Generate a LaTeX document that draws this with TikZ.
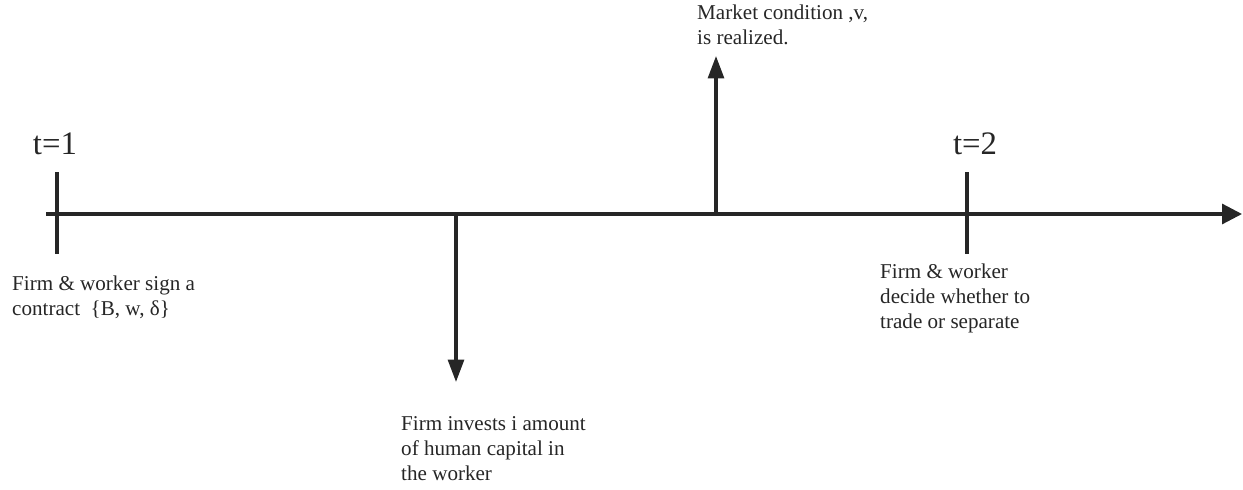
\documentclass[tikz,border=0pt]{standalone}
\usepackage{fontspec}
\setmainfont{Liberation Serif}
\usetikzlibrary{arrows.meta}

\begin{document}
\begin{tikzpicture}[x=0.3mm, y=-0.3mm,
    axis/.style={line width=2.7pt, draw=black!85},
    event/.style={axis, -{Triangle[length=19pt, width=13.5pt]}},
    note/.style={anchor=base west, inner sep=0pt, align=left, text=black!85,
                 font=\fontsize{18}{21}\selectfont},
    period/.style={anchor=base, inner sep=0pt, text=black!85,
                   font=\fontsize{28}{30}\selectfont}]
    \useasboundingbox (0,0) rectangle (1243,489);

    % --- the time line ---
    \coordinate (start) at (46,214);
    \coordinate (end)   at (1242,214);
    \draw[axis, -{Triangle[length=17pt, width=17pt]}] (start) -- (end);

    % the two dates
    \coordinate (t1top) at (57,172);
    \coordinate (t1bot) at (57,254);
    \coordinate (t2top) at (967,172);
    \coordinate (t2bot) at (967,254);
    \draw[axis] (t1top) -- (t1bot);
    \draw[axis] (t2top) -- (t2bot);
    \node[period] (t1) at (55,154) {t=1};
    \node[period] (t2) at (975,154) {t=2};

    % --- what happens in between ---
    \coordinate (invest) at (456,214);
    \coordinate (investtip) at (456,382);
    \draw[event] (invest) -- (investtip);
    \coordinate (market) at (716,214);
    \coordinate (markettip) at (716,56);
    \draw[event] (market) -- (markettip);

    % --- the notes (placed by their last line) ---
    \node[note] (sign) at (12,315) {Firm \& worker sign a\\contract\ \ \{B, w, δ\}};
    \node[note] (inv) at (401,480) {Firm invests i amount\\of human capital in\\the worker};
    \node[note] (mkt) at (697,44) {Market condition ,v,\\is realized.};
    \node[note] (trade) at (880,328) {Firm \& worker\\decide whether to\\trade or separate};
\end{tikzpicture}
\end{document}
